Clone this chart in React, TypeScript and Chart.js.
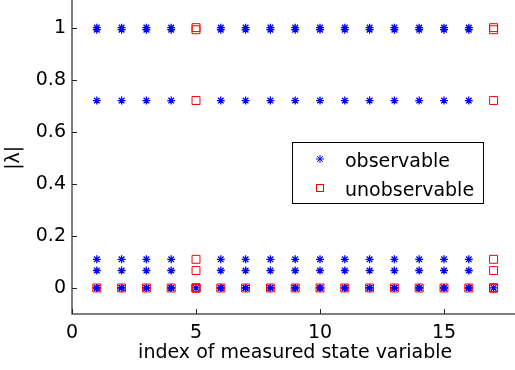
import React, { useEffect, useRef } from 'react';
import { Chart, registerables } from 'chart.js';

Chart.register(...registerables);

// ---- data ----
const stateIndex = [1, 2, 3, 4, 5, 6, 7, 8, 9, 10, 11, 12, 13, 14, 15, 16, 17];
const unobservableColumns = [5, 17];
const eigenMagnitudes = [1.0, 0.992, 0.72, 0.11, 0.067, 0, 0, 0];
const zeroMagnitudes = [0];
const xTicks = [0, 5, 10, 15];
const yTicks = [0, 0.2, 0.4, 0.6, 0.8, 1];
const xRange = [0, 18];
const yRange = [-0.1, 1.1];
const seriesLabels = ['observable', 'unobservable'];
const seriesColors = ['#0000ff', '#ff0000'];
const xTitle = 'index of measured state variable';
const yTitle = '|λ|';

const FONT = 'DejaVu Sans';

const observablePoints = stateIndex.flatMap((x) =>
  (unobservableColumns.includes(x) ? zeroMagnitudes : eigenMagnitudes).map((y) => ({ x, y }))
);
const unobservablePoints = stateIndex.flatMap((x) =>
  (unobservableColumns.includes(x) ? eigenMagnitudes : zeroMagnitudes).map((y) => ({ x, y }))
);

const axesPlugin = {
  id: 'matlabAxes',
  afterDraw(chart: any) {
    const { ctx, chartArea: a } = chart;
    const xs = chart.scales.x;
    const ys = chart.scales.y;
    ctx.save();
    ctx.strokeStyle = '#555';
    ctx.lineWidth = 1.5;
    ctx.beginPath();
    ctx.moveTo(a.left, 0);
    ctx.lineTo(a.left, a.bottom);
    ctx.lineTo(a.right + 4, a.bottom);
    ctx.stroke();
    ctx.strokeStyle = '#222';
    ctx.lineWidth = 1;
    ctx.beginPath();
    yTicks.forEach((v) => {
      const p = Math.round(ys.getPixelForValue(v)) + 0.5;
      ctx.moveTo(a.left, p);
      ctx.lineTo(a.left + 5, p);
    });
    xTicks.forEach((v) => {
      const p = Math.round(xs.getPixelForValue(v)) + 0.5;
      ctx.moveTo(p, a.bottom);
      ctx.lineTo(p, a.bottom - 5);
    });
    ctx.stroke();

    // legend (canvas is shifted up by 5px)
    const bx = 292;
    const by = 147;
    const bw = 191;
    const bh = 61;
    ctx.fillStyle = '#ffffff';
    ctx.fillRect(bx, by, bw, bh);
    ctx.strokeStyle = '#000';
    ctx.lineWidth = 1;
    ctx.strokeRect(bx + 0.5, by + 0.5, bw, bh);

    const rows = [by + 17, by + 46];
    const mx = bx + 28;
    ctx.strokeStyle = seriesColors[0];
    ctx.beginPath();
    const r = 4;
    ctx.moveTo(mx - r, rows[0]);
    ctx.lineTo(mx + r, rows[0]);
    ctx.moveTo(mx, rows[0] - r);
    ctx.lineTo(mx, rows[0] + r);
    const d = r * Math.SQRT1_2;
    ctx.moveTo(mx - d, rows[0] - d);
    ctx.lineTo(mx + d, rows[0] + d);
    ctx.moveTo(mx - d, rows[0] + d);
    ctx.lineTo(mx + d, rows[0] - d);
    ctx.stroke();
    ctx.strokeStyle = seriesColors[1];
    ctx.strokeRect(mx - 3.5, rows[1] - 3.5, 7, 7);

    ctx.fillStyle = '#000';
    ctx.font = `19px "${FONT}"`;
    ctx.textBaseline = 'alphabetic';
    ctx.textAlign = 'left';
    seriesLabels.forEach((t, i) => ctx.fillText(t, bx + 53, by + 25 + i * 29));
    ctx.restore();
  },
};

export default function App() {
  const ref = useRef<HTMLCanvasElement | null>(null);

  useEffect(() => {
    if (!ref.current) return;
    const chart = new Chart(ref.current, {
      type: 'scatter',
      data: {
        datasets: [
          {
            label: seriesLabels[0],
            data: observablePoints,
            pointStyle: 'star',
            radius: 4,
            borderWidth: 1.3,
            borderColor: seriesColors[0],
            backgroundColor: seriesColors[0],
            showLine: false,
            order: 1,
          },
          {
            label: seriesLabels[1],
            data: unobservablePoints,
            pointStyle: 'rect',
            radius: 5.6,
            borderWidth: 1,
            borderColor: seriesColors[1],
            backgroundColor: 'rgba(0,0,0,0)',
            showLine: false,
            order: 0,
          },
        ],
      },
      options: {
        responsive: false,
        animation: false,
        layout: { padding: { top: 2, right: 2, left: 0, bottom: 0 } },
        plugins: { legend: { display: false }, tooltip: { enabled: false } },
        scales: {
          x: {
            type: 'linear',
            min: xRange[0],
            max: xRange[1],
            grid: { display: false, drawTicks: false },
            border: { display: false },
            afterBuildTicks: (s: any) => {
              s.ticks = xTicks.map((v) => ({ value: v }));
            },
            afterFit: (s: any) => {
              s.height = 56;
              s.paddingLeft = 0;
              s.paddingRight = 0;
            },
            ticks: {
              padding: 8,
              color: '#000',
              font: { family: FONT, size: 19 },
              maxRotation: 0,
              callback: (v: any) => String(v),
            },
            title: {
              display: true,
              text: xTitle,
              color: '#000',
              font: { family: FONT, size: 19 },
              padding: { top: 0, bottom: 6 },
            },
          },
          y: {
            type: 'linear',
            min: yRange[0],
            max: yRange[1],
            grid: { display: false, drawTicks: false },
            border: { display: false },
            afterBuildTicks: (s: any) => {
              s.ticks = yTicks.map((v) => ({ value: v }));
            },
            afterFit: (s: any) => {
              s.width = 72;
              s.paddingTop = 0;
              s.paddingBottom = 0;
            },
            ticks: {
              padding: 6,
              color: '#000',
              font: { family: FONT, size: 19 },
              callback: (v: any) => String(v),
            },
            title: {
              display: true,
              text: yTitle,
              color: '#000',
              font: { family: FONT, size: 19 },
              padding: { top: 3, bottom: 0 },
            },
          },
        },
      },
      plugins: [axesPlugin],
    });
    return () => chart.destroy();
  }, []);

  return (
    <div
      style={{
        position: 'absolute',
        left: 0,
        top: 0,
        width: 515,
        height: 370,
        overflow: 'hidden',
        background: '#fff',
      }}
    >
      <canvas
        ref={ref}
        width={525}
        height={375}
        style={{ display: 'block', position: 'absolute', left: 0, top: -5 }}
      />
    </div>
  );
}
